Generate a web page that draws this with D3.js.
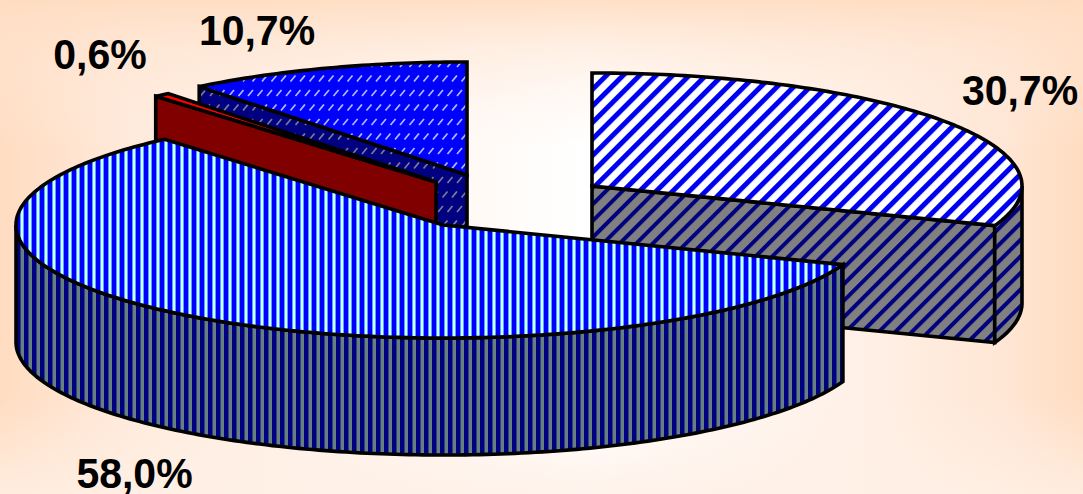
<!DOCTYPE html>
<html><head><meta charset="utf-8">
<script src="https://cdn.jsdelivr.net/npm/d3@7/dist/d3.min.js"></script>
<style>html,body{margin:0;padding:0;background:#fff;overflow:hidden}svg{display:block}</style>
</head><body><div id="chart"></div>
<script>
const labels = ["30,7%", "58,0%", "0,6%", "10,7%"];
const values = [30.7, 58.0, 0.6, 10.7];

const W = 1083, H = 494;
const svg = d3.select("#chart").append("svg").attr("width", W).attr("height", H);
const defs = svg.append("defs");

// soft background: peach at the sides and the top, near white in the middle
function grad(id, vertical, stops){
  const g = defs.append("linearGradient").attr("id",id).attr("x1",0).attr("y1",0)
    .attr("x2",vertical?0:1).attr("y2",vertical?1:0);
  stops.forEach(s=>g.append("stop").attr("offset",s[0]).attr("stop-color",s[1]).attr("stop-opacity",s[2]===undefined?1:s[2]));
}
grad("bgH", false, [[0,"#ffdcc0"],[0.12,"#ffeadb"],[0.3,"#fff3ea"],[0.54,"#ffffff"],[0.8,"#fff0e6"],[0.93,"#ffe6d4"],[1,"#ffdcc0"]]);
grad("bgV", true, [[0,"#ffdcc0",0.9],[0.1,"#ffe4d0",0.55],[0.3,"#fff0e6",0],[0.8,"#fff0e6",0],[1,"#fff0e6",0.8]]);
svg.append("rect").attr("width",W).attr("height",H).attr("fill","url(#bgH)");
svg.append("rect").attr("width",W).attr("height",H).attr("fill","url(#bgV)");

function stripes(id, size, rot, a, b, bw, soft){
  const p = defs.append("pattern").attr("id",id).attr("patternUnits","userSpaceOnUse")
    .attr("width",size).attr("height",size).attr("patternTransform",rot?`rotate(${rot})`:null);
  p.append("rect").attr("width",size).attr("height",size).attr("fill",a);
  if(soft) p.append("rect").attr("x",-1).attr("width",bw+2).attr("height",size).attr("fill",soft);
  if(soft) p.append("rect").attr("x",size-1).attr("width",1).attr("height",size).attr("fill",soft);
  p.append("rect").attr("width",bw).attr("height",size).attr("fill",b);
}
stripes("pTopA", 11.7, 45, "#ffffff", "#0000f0", 5);
stripes("pWallA", 11.7, 45, "#808080", "#000080", 4);
stripes("pTopB", 8, 0, "#ccffff", "#0000ff", 4, "#5f9fff");
stripes("pWallB", 8, 0, "#667f7f", "#000080", 4.5);
function dashes(id, bgc, fg){
  const p = defs.append("pattern").attr("id",id).attr("patternUnits","userSpaceOnUse").attr("width",19).attr("height",29);
  p.append("rect").attr("width",19).attr("height",29).attr("fill",bgc);
  [[1,0],[10.5,0],[5.5,14.5],[-4,14.5],[15,14.5]].forEach(d=>{
    p.append("line").attr("x1",d[0]).attr("x2",d[0]+5).attr("y1",d[1]+9).attr("y2",d[1]+3)
     .attr("stroke",fg).attr("stroke-width",1.7);
  });
}
dashes("pTopD", "#0000ff", "#b4b8ff");
dashes("pWallD", "#000080", "#7a7a9a");

const ry = 113, depth = 117;
const pie = d3.pie().sort(null).value(d => d);
const arcs = pie(values);

const look = [
  {top:"url(#pTopA)", wall:"url(#pWallA)", cx:592, cy:186, rx:430},
  {top:"url(#pTopB)", wall:"url(#pWallB)", cx:443, cy:225, rx:427},
  {top:"#ff0000",     wall:"#800000",      cx:436, cy:182, rx:430},
  {top:"url(#pTopD)", wall:"url(#pWallD)", cx:467, cy:175, rx:430}
];
const line = d3.line();
const pt = (s,a,dz=0)=>[s.cx+s.rx*Math.sin(a), s.cy-ry*Math.cos(a)+dz];
const samples = (a0,a1)=>{const n=Math.max(2,Math.ceil(Math.abs(a1-a0)*60));return d3.range(n+1).map(i=>a0+(a1-a0)*i/n);};
const stroke = sel => sel.attr("stroke","#000").attr("stroke-width",3.6).attr("stroke-linejoin","miter").attr("stroke-miterlimit",3);

function drawSlice(i){
  const d = arcs[i], s = look[i], g = svg.append("g");
  const a0=d.startAngle, a1=d.endAngle;
  const faceAngle = (i===0) ? a1 : (i===1 ? a1 : a0);
  if(i!==1){
    const t=pt(s,faceAngle), c=[s.cx,s.cy];
    g.append("path").attr("d",line([c,t,[t[0],t[1]+depth],[c[0],c[1]+depth]])+"Z").attr("fill",s.wall).call(stroke);
  }
  const lo=Math.max(a0,Math.PI/2), hi=Math.min(a1,Math.PI*1.5);
  if(hi>lo){
    const as=samples(lo,hi);
    const pts=as.map(a=>pt(s,a)).concat(as.slice().reverse().map(a=>pt(s,a,depth)));
    g.append("path").attr("d",line(pts)+"Z").attr("fill",s.wall).call(stroke);
  }
  const top=[[s.cx,s.cy]].concat(samples(a0,a1).map(a=>pt(s,a)));
  g.append("path").attr("d",line(top)+"Z").attr("fill",s.top).call(stroke);
}
[3,2,0,1].forEach(drawSlice);

const labelPos = [[1020,105],[134.5,488],[100,69],[257,45]];
svg.selectAll("text.l").data(labels).join("text").attr("class","l")
  .attr("transform",(d,i)=>`translate(${labelPos[i][0]},${labelPos[i][1]}) scale(1,1.05)`)
  .attr("text-anchor","middle").attr("font-family","'Liberation Sans',Arial,sans-serif")
  .attr("font-weight","bold").attr("font-size",41).attr("fill","#000").text(d=>d);
</script></body></html>
